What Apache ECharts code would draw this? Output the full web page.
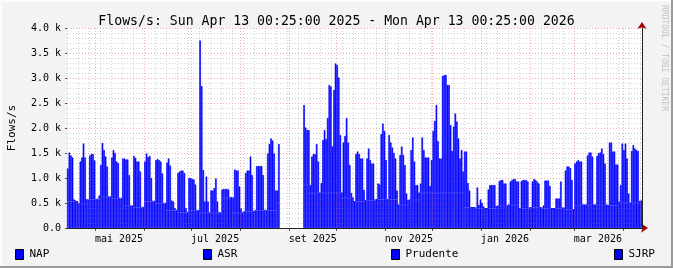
<!DOCTYPE html>
<html>
<head>
<meta charset="utf-8">
<script src="https://cdn.jsdelivr.net/npm/echarts@6/dist/echarts.min.js"></script>
<style>
html,body{margin:0;padding:0;background:#f3f3f3;}
#wrap{position:relative;width:673px;height:268px;overflow:hidden;background:#f3f3f3;}
#chart{position:absolute;left:0;top:0;width:673px;height:268px;}
.fr{position:absolute;pointer-events:none;}
</style>
</head>
<body>
<div id="wrap">
  <div id="chart"></div>
  <div class="fr" style="left:0;top:0;width:673px;height:2px;background:#fcfcfc"></div>
  <div class="fr" style="left:0;top:0;width:2px;height:268px;background:#fcfcfc"></div>
  <div class="fr" style="left:0;bottom:0;width:673px;height:2px;background:#9a9a9a"></div>
  <div class="fr" style="right:0;top:0;width:2px;height:268px;background:#9a9a9a"></div>
</div>
<script>
// ---------- data ----------
const titleText = 'Flows/s: Sun Apr 13 00:25:00 2025 - Mon Apr 13 00:25:00 2026';
const startDate = [2025, 3, 13];          // 13 Apr 2025 (month 0-based)
const monthNames = ['jan','fev','mar','abr','mai','jun','jul','ago','set','out','nov','dez'];
const seriesNames = ['NAP', 'ASR', 'Prudente', 'SJRP'];
const yTickLabels = ['0.0','0.5 k','1.0 k','1.5 k','2.0 k','2.5 k','3.0 k','3.5 k','4.0 k'];

// total flows/s per day (top of the stacked blue area)
const totalFlows = [
  1190,1510,1450,1410,570,550,530,
  480,1330,1410,1690,1410,580,570,
  1450,1480,1480,1350,580,580,650,
  1260,1700,1560,1430,1230,630,630,
  1410,1560,1500,1330,1300,600,600,
  1390,1390,1370,1370,1060,450,450,
  1440,1400,1330,1330,1130,420,420,
  1330,1490,1420,1440,1000,540,540,
  1360,1380,1360,1330,1090,500,500,
  1310,1390,1250,550,530,400,360,
  1100,1130,1150,1150,1100,400,320,
  1000,1000,980,970,870,360,360,
  3750,2840,1160,530,1030,530,310,
  750,750,800,990,530,320,310,
  770,780,780,780,770,620,620,
  610,1170,1150,1150,830,390,310,
  340,1100,1150,1150,1430,1060,340,
  360,1240,1240,1240,1240,1060,360,
  360,1490,1680,1790,1750,1490,750,
  750,1680,null,null,null,null,null,
  null,null,null,null,null,null,null,
  null,null,null,2460,2010,1960,1960,
  860,1430,1480,1480,1680,1330,700,
  900,1760,1960,1780,2200,2860,2830,
  1630,2760,3290,3260,3010,1860,700,
  1710,1840,2200,1710,1260,700,600,
  530,1480,1530,1480,1390,1390,760,
  550,1390,1590,1360,1290,1290,570,
  570,890,870,1880,2090,1940,1360,
  570,1860,1710,1610,1500,1390,750,
  460,1460,1630,1460,1260,690,560,
  560,1560,1810,1330,860,860,710,
  890,1810,1560,1410,1410,1410,840,
  1360,1940,2140,2460,1740,1390,1390,
  3040,3060,3060,2860,2860,2060,1540,
  2030,2290,2130,1790,1390,1560,1130,
  1530,1530,900,750,410,410,410,
  410,810,460,570,500,430,390,
  390,770,860,860,860,860,440,
  440,940,960,960,890,890,460,
  460,930,960,980,980,930,930,
  390,940,960,960,960,930,410,
  410,930,980,960,930,890,410,
  410,450,950,950,950,840,390,
  390,390,590,590,590,930,410,
  410,1150,1230,1230,1200,960,370,
  1290,1330,1360,1330,1330,460,460,
  460,1450,1510,1510,1430,460,460,
  1440,1500,1510,1590,1480,1290,460,
  450,1710,1710,1530,1530,1270,1270,
  530,860,1690,1560,1690,1390,690,
  500,1540,1660,1590,1560,1540,540,
  540
];

// level of the bottom (NAP) layer, one reading per week
const napWeeklyLevel = [
  530,480,570,620,590,440,410,530,490,350,
  310,350,300,300,600,300,330,350,350,500,
  500,860,700,700,700,600,530,550,570,570,
  460,560,700,700,700,700,410,390,390,440,
  460,390,410,390,390,370,460,460,460,450,
  500,500,540
];

// ---------- build ----------
const days = totalFlows.length;            // 365 daily values
const dayCats = [];                        // one category per day
const boundaryCats = [];                   // day boundaries (days + 1)
const dateParts = [];
for (let i = 0; i <= days; i++) {
  const d = new Date(Date.UTC(startDate[0], startDate[1], startDate[2] + i));
  dateParts.push({y: d.getUTCFullYear(), m: d.getUTCMonth(), d: d.getUTCDate(), wd: d.getUTCDay()});
  const s = d.toISOString().slice(0, 10);
  boundaryCats.push(s);
  if (i < days) dayCats.push(s);
}
const napFlows = totalFlows.map((v, i) => v == null ? null : Math.min(v, napWeeklyLevel[Math.floor(i / 7)]));
const asrFlows = totalFlows.map((v, i) => v == null ? null : v - napFlows[i]);

const BLUE = '#0000ff';
const FONT = 'DejaVu Sans Mono';
const GRID_MINOR = 'rgba(120,120,120,0.33)';
const GRID_MAJOR = 'rgba(225,40,40,0.38)';

const isMonthStart = i => i < days && dateParts[i].d === 1;
const isWeekLine = i => i < days && dateParts[i].wd === 0 && dateParts[i].d !== 1;
// label centred half a month after the start of every second month
const isLabelDay = i => i < days && dateParts[i].d === 16 && dateParts[i].m % 2 === 0;

const hidden = {axisLine:{show:false}, axisTick:{show:false}, axisLabel:{show:false}, splitLine:{show:false}};
const edgeAxis = extra => Object.assign({type: 'category', data: boundaryCats, boundaryGap: false, position: 'bottom'}, hidden, extra);

const option = {
  animation: false,
  backgroundColor: 'transparent',
  title: {
    text: titleText, left: 'center', top: 10,
    textStyle: {fontFamily: FONT, fontSize: 13.2, fontWeight: 'normal', color: '#000'}
  },
  grid: {left: 67, top: 28, width: 575, height: 200, show: true, backgroundColor: '#ffffff', borderWidth: 0,
         containLabel: false, outerBoundsMode: 'none'},
  legend: seriesNames.map((n, k) => ({
    data: [{name: n, icon: 'rect', itemStyle: {color: BLUE, borderColor: '#000', borderWidth: 1}}],
    left: [15, 203, 391, 614][k], top: 249, padding: 0, itemWidth: 8, itemHeight: 10, itemGap: 0,
    selectedMode: false,
    textStyle: {fontFamily: FONT, fontSize: 11, color: '#000', padding: [0, 0, 0, 1]}
  })),
  xAxis: [
    // 0: data axis (one band per day)
    Object.assign({type: 'category', data: dayCats, boundaryGap: true, position: 'bottom', z: 1}, hidden),
    // 1: weekly minor grid
    edgeAxis({z: 3, splitLine: {show: true, interval: i => isWeekLine(i), lineStyle: {color: GRID_MINOR, type: [1, 2], width: 1}}}),
    // 2: monthly major grid and ticks
    edgeAxis({z: 3,
      splitLine: {show: true, interval: i => isMonthStart(i), lineStyle: {color: GRID_MAJOR, type: [1, 2], width: 1}},
      axisTick: {show: true, interval: i => isMonthStart(i), length: 3, lineStyle: {color: '#555'}}}),
    // 3: month labels
    edgeAxis({z: 3,
      axisLabel: {show: true, interval: i => isLabelDay(i), margin: 6, align: 'center',
        fontFamily: FONT, fontSize: 10, color: '#000',
        formatter: (v, i) => { const p = dateParts[i]; return monthNames[p.m] + ' ' + p.y; }}}),
    // 4: arrow (dark red)
    edgeAxis({z: 1, axisLine: {show: true, lineStyle: {color: '#a00000', width: 1}, symbol: ['none', 'arrow'], symbolSize: [7, 7], symbolOffset: [0, 6]}}),
    // 5: black axis line on top
    edgeAxis({z: 5, axisLine: {show: true, lineStyle: {color: '#222', width: 1}}})
  ],
  yAxis: [
    {type: 'value', min: 0, max: 4000, interval: 500, z: 3,
     name: 'Flows/s', nameLocation: 'middle', nameGap: 49, nameRotate: 90,
     nameTextStyle: {fontFamily: FONT, fontSize: 11, color: '#000'},
     axisLine: {show: false},
     axisTick: {show: true, length: 2, lineStyle: {color: '#555'}},
     axisLabel: {fontFamily: FONT, fontSize: 10, color: '#000', margin: 6,
       formatter: v => yTickLabels[Math.round(v / 500)]},
     splitLine: {show: true, lineStyle: {color: GRID_MAJOR, type: [1, 2], width: 1}}},
    Object.assign({}, hidden, {type: 'value', min: 0, max: 4000, interval: 100, z: 3,
     splitLine: {show: true, lineStyle: {color: ['rgba(0,0,0,0)', GRID_MINOR, GRID_MINOR, GRID_MINOR, GRID_MINOR], type: [1, 2], width: 1}}}),
    Object.assign({}, hidden, {type: 'value', min: 0, max: 4000, z: 1,
     axisLine: {show: true, lineStyle: {color: '#a00000', width: 1}, symbol: ['none', 'arrow'], symbolSize: [7, 7], symbolOffset: [0, 6]}}),
    Object.assign({}, hidden, {type: 'value', min: 0, max: 4000, z: 5,
     axisLine: {show: true, lineStyle: {color: '#222', width: 1}}})
  ],
  series: [
    {name: 'NAP', type: 'bar', stack: 'flows', xAxisIndex: 0, yAxisIndex: 0, z: 2,
     data: napFlows, barCategoryGap: '0%', silent: true,
     itemStyle: {color: BLUE, borderColor: BLUE, borderWidth: 0.6}},
    {name: 'ASR', type: 'bar', stack: 'flows', xAxisIndex: 0, yAxisIndex: 0, z: 4,
     data: asrFlows, barCategoryGap: '0%', silent: true,
     itemStyle: {color: BLUE, borderColor: BLUE, borderWidth: 0.6}},
    {name: 'Prudente', type: 'line', xAxisIndex: 0, yAxisIndex: 0, data: [], itemStyle: {color: BLUE}},
    {name: 'SJRP', type: 'line', xAxisIndex: 0, yAxisIndex: 0, data: [], itemStyle: {color: BLUE}}
  ],
  graphic: [
    {type: 'text', x: 668, y: 5, rotation: -Math.PI / 2,
     style: {text: 'RRDTOOL / TOBI OETIKER', fill: '#c2c2c2', font: '8px "DejaVu Sans Mono"', textAlign: 'left', textVerticalAlign: 'top'}}
  ]
};

const chart = echarts.init(document.getElementById('chart'), null, {renderer: 'canvas'});
chart.setOption(option);
</script>
</body>
</html>
